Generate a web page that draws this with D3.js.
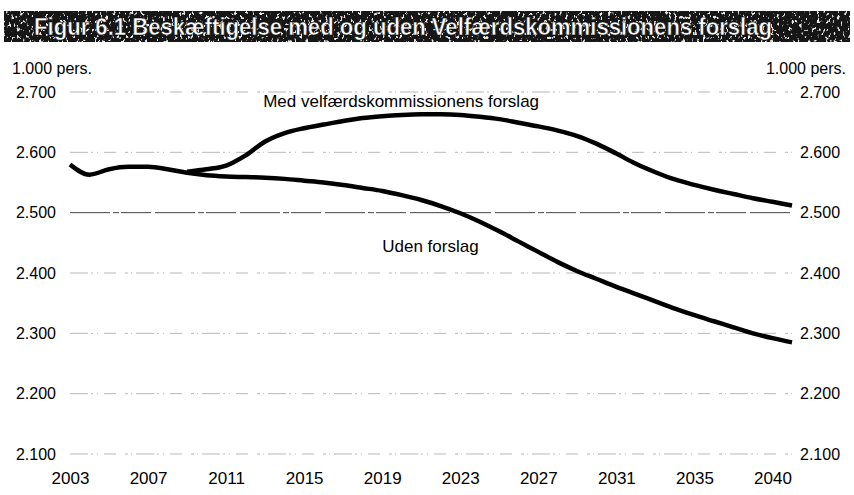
<!DOCTYPE html>
<html>
<head>
<meta charset="utf-8">
<script src="https://cdn.jsdelivr.net/npm/d3@7"></script>
<style>
  body { margin: 0; background: #fff; }
  svg { display: block; font-family: "Liberation Sans", Arial, sans-serif; }
</style>
</head>
<body>
<div id="chart"></div>
<script>
const years = d3.range(2003, 2041);

// Beskæftigelse uden forslag, 1.000 pers.
const udenForslag = [
  2580, 2563, 2572, 2576, 2576, 2572, 2566, 2562, 2560, 2559,
  2558, 2556, 2553, 2550, 2546, 2541, 2536, 2529, 2521, 2511,
  2499, 2485, 2469, 2452, 2435, 2418, 2403, 2390, 2377, 2365,
  2353, 2341, 2330, 2320, 2310, 2300, 2292, 2285
];

// Med velfærdskommissionens forslag (fra 2009)
const medYears = d3.range(2009, 2041);
const medForslag = [
  2568, 2572, 2578, 2595, 2618, 2632, 2640, 2646, 2652, 2657,
  2660, 2662, 2663, 2663, 2662, 2659, 2655, 2649, 2643, 2636,
  2627, 2614, 2598, 2581, 2567, 2555, 2546, 2538, 2531, 2524,
  2518, 2512
];

const yTicks = [2100, 2200, 2300, 2400, 2500, 2600, 2700];
const xTickYears = [2003, 2007, 2011, 2015, 2019, 2023, 2027, 2031, 2035, 2039];
const xTickLabels = ["2003", "2007", "2011", "2015", "2019", "2023", "2027", "2031", "2035", "2040"];

const width = 854, height = 495;
const margin = { top: 92, right: 62, bottom: 41, left: 70 };

const svg = d3.select("#chart").append("svg")
  .attr("width", width)
  .attr("height", height);

const x = d3.scaleLinear()
  .domain([2003, 2040])
  .range([margin.left, width - margin.right]);

const y = d3.scaleLinear()
  .domain([2100, 2700])
  .range([height - margin.bottom, margin.top]);

// Title bar (scanned, speckled look)
const defs = svg.append("defs");
const noise = defs.append("filter").attr("id", "speckle")
  .attr("x", 0).attr("y", 0).attr("width", 1).attr("height", 1);
noise.append("feTurbulence")
  .attr("type", "fractalNoise")
  .attr("baseFrequency", "0.35 0.25")
  .attr("numOctaves", 3)
  .attr("seed", 7)
  .attr("result", "n");
noise.append("feColorMatrix")
  .attr("in", "n")
  .attr("type", "matrix")
  .attr("values", "0 0 0 0 0.8  0 0 0 0 0.8  0 0 0 0 0.8  0 0 0 10 -6.1");

svg.append("rect")
  .attr("x", 4).attr("y", 11)
  .attr("width", 846).attr("height", 31)
  .attr("fill", "#161616");
svg.append("rect")
  .attr("x", 4).attr("y", 11)
  .attr("width", 846).attr("height", 31)
  .attr("filter", "url(#speckle)");

svg.append("text")
  .attr("x", 34).attr("y", 35)
  .attr("fill", "#fff")
  .attr("stroke", "#000")
  .attr("stroke-width", 0.5)
  .attr("font-size", 24)
  .attr("font-weight", "bold")
  .attr("textLength", 738)
  .attr("lengthAdjust", "spacingAndGlyphs")
  .text("Figur 6.1 Beskæftigelse med og uden Velfærdskommissionens forslag");

// Grid lines
const grid = svg.append("g");
grid.selectAll("line")
  .data(yTicks)
  .join("line")
  .attr("x1", x(2003))
  .attr("x2", x(2040))
  .attr("y1", d => y(d))
  .attr("y2", d => y(d))
  .attr("stroke", d => d === 2500 ? "#444" : "#999")
  .attr("stroke-width", d => d === 2500 ? 1 : 0.7)
  .attr("stroke-dasharray", d => d === 2500 ? "40,3,6,2,30,4" : "18,3,2,4,1,6,12,9,3,3,1,4");

// Left and right axes
const fmt = d => d3.format(",")(d).replace(",", ".");
const yLeft = d3.axisLeft(y).tickValues(yTicks).tickSize(0).tickPadding(14).tickFormat(fmt);
const yRight = d3.axisRight(y).tickValues(yTicks).tickSize(0).tickPadding(8).tickFormat(fmt);

svg.append("g")
  .attr("transform", `translate(${margin.left},0)`)
  .call(yLeft)
  .call(g => g.select(".domain").remove())
  .selectAll("text")
  .attr("font-size", 16)
  .attr("fill", "#000")
  .attr("font-family", "Liberation Sans, Arial, sans-serif");

svg.append("g")
  .attr("transform", `translate(${x(2040)},0)`)
  .call(yRight)
  .call(g => g.select(".domain").remove())
  .selectAll("text")
  .attr("font-size", 16)
  .attr("fill", "#000")
  .attr("font-family", "Liberation Sans, Arial, sans-serif");

// Bottom axis
const xAxis = d3.axisBottom(x)
  .tickValues(xTickYears)
  .tickSize(0)
  .tickPadding(18)
  .tickFormat((d, i) => xTickLabels[i]);

svg.append("g")
  .attr("transform", `translate(0,${y(2100)})`)
  .call(xAxis)
  .call(g => g.select(".domain").remove())
  .selectAll("text")
  .attr("font-size", 17)
  .attr("fill", "#000")
  .attr("font-family", "Liberation Sans, Arial, sans-serif");

// Unit labels
svg.append("text")
  .attr("x", 12).attr("y", 74)
  .attr("font-size", 16)
  .text("1.000 pers.");
svg.append("text")
  .attr("x", 846).attr("y", 74)
  .attr("text-anchor", "end")
  .attr("font-size", 16)
  .text("1.000 pers.");

// Lines
const line = d3.line()
  .x(d => x(d[0]))
  .y(d => y(d[1]))
  .curve(d3.curveMonotoneX);

svg.append("path")
  .datum(years.map((yr, i) => [yr, udenForslag[i]]))
  .attr("d", line)
  .attr("fill", "none")
  .attr("stroke", "#000")
  .attr("stroke-width", 4.5)
  .attr("stroke-linejoin", "round");

svg.append("path")
  .datum(medYears.map((yr, i) => [yr, medForslag[i]]))
  .attr("d", line)
  .attr("fill", "none")
  .attr("stroke", "#000")
  .attr("stroke-width", 4.5)
  .attr("stroke-linejoin", "round");

// Series labels
svg.append("text")
  .attr("x", x(2012.9)).attr("y", y(2675))
  .attr("font-size", 17)
  .text("Med velfærdskommissionens forslag");

svg.append("text")
  .attr("x", x(2019.0)).attr("y", y(2434))
  .attr("font-size", 17)
  .text("Uden forslag");
</script>
</body>
</html>
